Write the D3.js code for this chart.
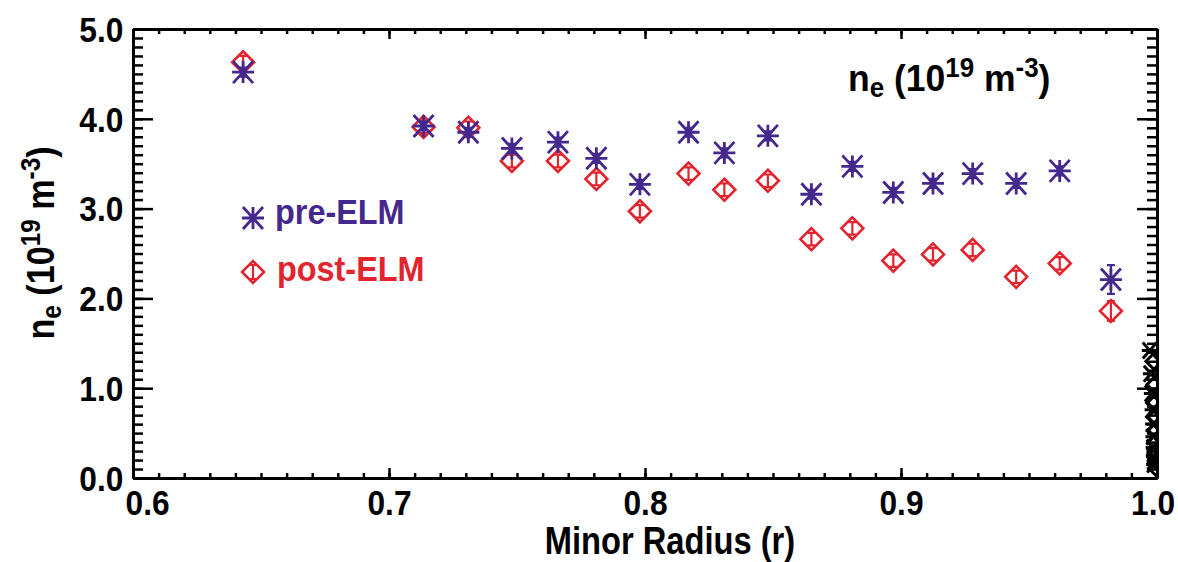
<!DOCTYPE html>
<html>
<head>
<meta charset="utf-8">
<script src="https://cdn.jsdelivr.net/npm/d3@7"></script>
<style>
  html, body { margin: 0; padding: 0; background: #fff; }
  svg { display: block; }
  text { font-family: "Liberation Sans", Arial, Helvetica, sans-serif; font-weight: bold; }
</style>
</head>
<body>
<svg id="chart" width="1178" height="562"></svg>
<script>
// Minor radius of each measurement channel
const radius   = [0.643, 0.7135, 0.731, 0.748, 0.766, 0.781, 0.798, 0.817, 0.831, 0.848,
                  0.865, 0.881, 0.897, 0.9125, 0.928, 0.945, 0.962, 0.982];
// Electron density before the ELM (10^19 m^-3)
const preELM   = [4.52, 3.92, 3.85, 3.67, 3.74, 3.56, 3.27, 3.85, 3.62, 3.81,
                  3.16, 3.47, 3.18, 3.28, 3.39, 3.28, 3.42, 2.21];
const preErr   = [0.05, 0.05, 0.05, 0.05, 0.05, 0.05, 0.05, 0.05, 0.05, 0.05,
                  0.05, 0.05, 0.05, 0.05, 0.05, 0.05, 0.05, 0.16];
// Electron density after the ELM (10^19 m^-3)
const postELM  = [4.63, 3.91, 3.90, 3.53, 3.53, 3.33, 2.97, 3.39, 3.21, 3.31,
                  2.66, 2.78, 2.42, 2.49, 2.54, 2.24, 2.39, 1.86];
const postErr  = [0.07, 0.07, 0.07, 0.07, 0.07, 0.07, 0.07, 0.07, 0.07, 0.07,
                  0.07, 0.07, 0.07, 0.07, 0.07, 0.07, 0.07, 0.11];
// Edge channels piled up at the separatrix
const edgeRadius  = [0.9972, 0.9988, 0.9976, 0.9992, 0.9980, 0.9994, 0.9983, 0.9996, 0.9985,
                     0.9997, 0.9986, 0.9995, 0.9987, 0.9996, 0.9988, 0.9997, 0.9989, 0.9998];
const edgeDensity = [1.42, 1.30, 1.16, 1.04, 0.94, 0.84, 0.76, 0.68, 0.60,
                     0.53, 0.46, 0.40, 0.34, 0.29, 0.24, 0.19, 0.15, 0.11];

const xTicks = [0.6, 0.7, 0.8, 0.9, 1.0];
const yTicks = [0.0, 1.0, 2.0, 3.0, 4.0, 5.0];

const PRE = "#45288e", POST = "#e3242f";

const svg = d3.select("#chart");
const m = { left: 133, top: 29, right: 1157, bottom: 478 };
const W = m.right - m.left, H = m.bottom - m.top;

const x = d3.scaleLinear().domain([0.6, 1.0]).range([m.left, m.right]);
const y = d3.scaleLinear().domain([0, 5]).range([m.bottom, m.top]);

svg.append("defs").append("clipPath").attr("id", "plotClip")
  .append("rect").attr("x", m.left).attr("y", m.top).attr("width", W).attr("height", H);

const minorX = d3.range(60, 101).map(d => d / 100);
const minorY = d3.range(0, 51).map(d => d / 10);

function styleAxis(g) {
  g.select(".domain").attr("stroke", "#000").attr("stroke-width", 3);
  g.selectAll(".tick line").attr("stroke", "#000").attr("stroke-width", 2.5);
}

// minor ticks (no labels)
svg.append("g").attr("transform", `translate(0,${m.bottom})`)
  .call(d3.axisBottom(x).tickValues(minorX).tickSizeInner(-5).tickSizeOuter(0).tickFormat(""))
  .call(styleAxis);
svg.append("g").attr("transform", `translate(0,${m.top})`)
  .call(d3.axisTop(x).tickValues(minorX).tickSizeInner(-5).tickSizeOuter(0).tickFormat(""))
  .call(styleAxis);
svg.append("g").attr("transform", `translate(${m.left},0)`)
  .call(d3.axisLeft(y).tickValues(minorY).tickSizeInner(-10).tickSizeOuter(0).tickFormat(""))
  .call(styleAxis);
svg.append("g").attr("transform", `translate(${m.right},0)`)
  .call(d3.axisRight(y).tickValues(minorY).tickSizeInner(-10).tickSizeOuter(0).tickFormat(""))
  .call(styleAxis);

// major ticks with labels
const xAx = svg.append("g").attr("transform", `translate(0,${m.bottom})`)
  .call(d3.axisBottom(x).tickValues(xTicks).tickSizeInner(-10).tickSizeOuter(0)
        .tickPadding(11).tickFormat(d3.format(".1f")))
  .call(styleAxis);
svg.append("g").attr("transform", `translate(0,${m.top})`)
  .call(d3.axisTop(x).tickValues(xTicks).tickSizeInner(-10).tickSizeOuter(0).tickFormat(""))
  .call(styleAxis);
const yAx = svg.append("g").attr("transform", `translate(${m.left},0)`)
  .call(d3.axisLeft(y).tickValues(yTicks).tickSizeInner(-20).tickSizeOuter(0)
        .tickPadding(11).tickFormat(d3.format(".1f")))
  .call(styleAxis);
svg.append("g").attr("transform", `translate(${m.right},0)`)
  .call(d3.axisRight(y).tickValues(yTicks).tickSizeInner(-20).tickSizeOuter(0).tickFormat(""))
  .call(styleAxis);

// narrow, tall labels
[xAx, yAx].forEach(g => g.selectAll(".tick text")
  .attr("fill", "#000").style("font-size", "36px").style("font-family", null)
  .attr("transform", "scale(0.88,1)"));
xAx.selectAll(".tick text").attr("x", 0);
// end labels are nudged inward so they clear the corner and the page edge
xAx.selectAll(".tick text").filter(d => d === 0.6).attr("x", 16);
xAx.selectAll(".tick text").filter(d => d === 1.0).attr("x", -5);
yAx.selectAll(".tick text").attr("dy", "0.34em");

// condensed text placed at (tx, ty)
function label(tx, ty, sx, anchor, rot) {
  const g = svg.append("g")
    .attr("transform", `translate(${tx},${ty})` + (rot ? ` rotate(${rot})` : "") + ` scale(${sx},1)`);
  return g.append("text").attr("text-anchor", anchor);
}

// axis titles
label(670, 554, 0.86, "middle").style("font-size", "38px").text("Minor Radius (r)");

function densityUnits(t, big, small, drop, rise) {
  t.style("font-size", big + "px");
  t.append("tspan").text("n");
  t.append("tspan").attr("dy", drop).style("font-size", small + "px").text("e");
  t.append("tspan").attr("dy", -drop).text(" (10");
  t.append("tspan").attr("dy", -rise).style("font-size", small + "px").text("19");
  t.append("tspan").attr("dy", rise).text(" m");
  t.append("tspan").attr("dy", -rise).style("font-size", small + "px").text("-3");
  t.append("tspan").attr("dy", rise).text(")");
}
densityUnits(label(54, 243, 0.9, "middle", -90), 38, 27, 7, 14);

// in-plot annotation
densityUnits(label(848, 91, 0.96, "start"), 37, 27, 6, 14);

// marker shapes
const R = 11;
const asteriskPath = `M${-R},0H${R}M0,${-R}V${R}M${-R+1},${-R}L${R-1},${R}M${-R+1},${R}L${R-1},${-R}`;
const diamondPath  = `M0,${-R}L${R},0L0,${R}L${-R},0Z`;

function errBar(g, xv, yv, ev, color) {
  const y1 = y(yv + ev), y2 = y(yv - ev), cx = x(xv);
  g.append("path")
    .attr("d", `M${cx},${y1}V${y2}M${cx - 4},${y1}H${cx + 4}M${cx - 4},${y2}H${cx + 4}`)
    .attr("stroke", color).attr("stroke-width", 2.2).attr("fill", "none");
}

const plot = svg.append("g").attr("clip-path", "url(#plotClip)");

// edge channels
const edge = plot.append("g");
edgeRadius.forEach((r, i) => {
  edge.append("path")
    .attr("transform", `translate(${x(r)},${y(edgeDensity[i])})`)
    .attr("d", i % 2 ? `M0,-8L8,0L0,8L-8,0Z` : `M-8,0H8M-7,-8L7,8M-7,8L7,-8`)
    .attr("fill", "none").attr("stroke", "#000").attr("stroke-width", 3);
});

// post-ELM: diamonds with error bars
const post = plot.append("g");
radius.forEach((r, i) => {
  post.append("path").attr("transform", `translate(${x(r)},${y(postELM[i])})`)
    .attr("d", diamondPath).attr("fill", "none").attr("stroke", POST).attr("stroke-width", 2.6);
  errBar(post, r, postELM[i], postErr[i], POST);
});

// pre-ELM: asterisks with error bars
const pre = plot.append("g");
radius.forEach((r, i) => {
  pre.append("path").attr("transform", `translate(${x(r)},${y(preELM[i])})`)
    .attr("d", asteriskPath).attr("fill", "none").attr("stroke", PRE).attr("stroke-width", 2.8);
  errBar(pre, r, preELM[i], preErr[i], PRE);
});

// legend
svg.append("path").attr("transform", "translate(253,218)")
  .attr("d", asteriskPath).attr("fill", "none").attr("stroke", PRE).attr("stroke-width", 2.8);
label(275, 224, 0.9, "start").attr("fill", PRE).style("font-size", "36px").text("pre-ELM");
svg.append("path").attr("transform", "translate(253,272)")
  .attr("d", diamondPath).attr("fill", "none").attr("stroke", POST).attr("stroke-width", 2.6);
svg.append("path").attr("d", "M253,265V279M249,265H257M249,279H257")
  .attr("stroke", POST).attr("stroke-width", 2.2);
label(277, 281, 0.9, "start").attr("fill", POST).style("font-size", "36px").text("post-ELM");
</script>
</body>
</html>
